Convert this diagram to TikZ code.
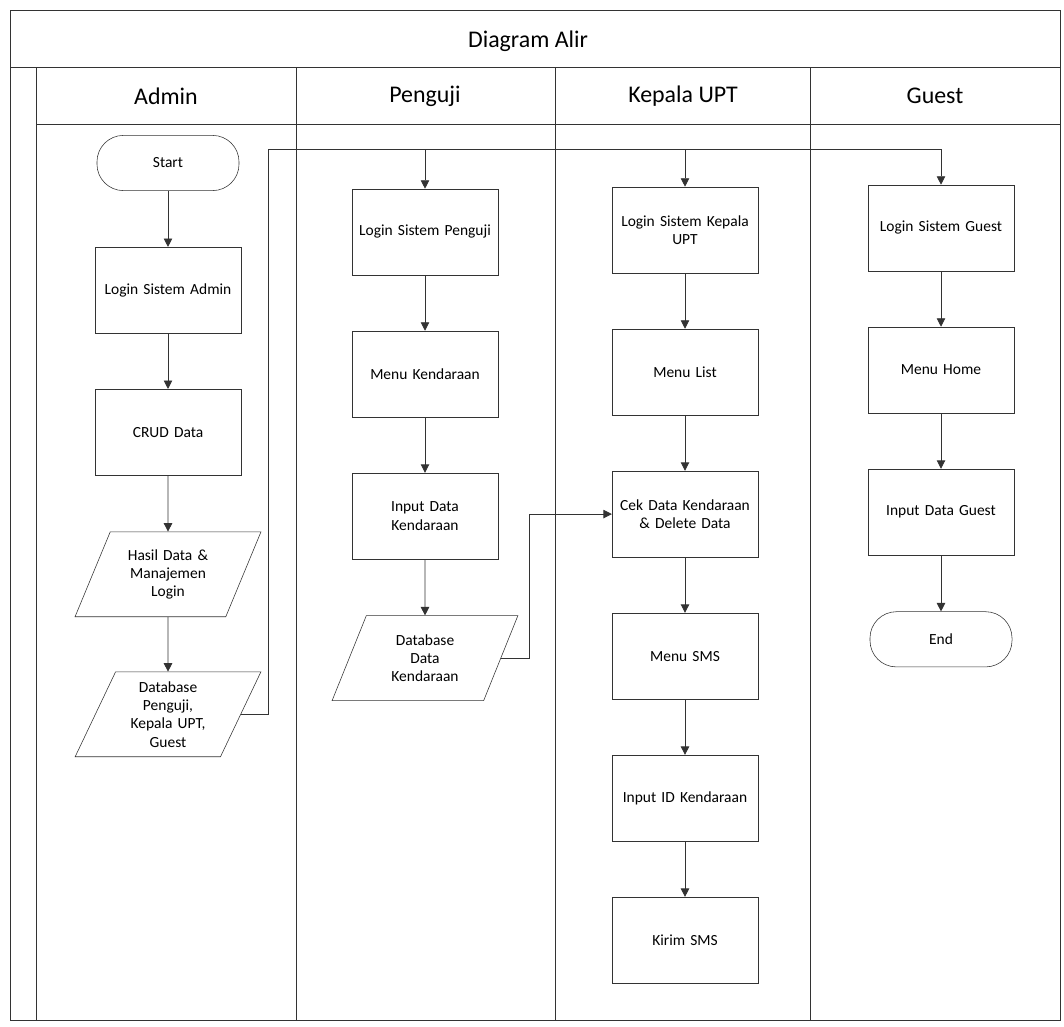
\documentclass[tikz,border=0pt]{standalone}
\usepackage{fontspec}
\setmainfont{Carlito}
\usetikzlibrary{arrows,arrows.meta,shapes.geometric,positioning}
\tikzstyle{startstop} = [rectangle, rounded corners=0.66cm, minimum width=3.55cm, minimum height=1.38cm, align=center, draw=black!80, font=\fontsize{11}{13}\selectfont]
\tikzstyle{proc} = [rectangle, minimum width=3.62cm, minimum height=2.15cm, text width=3.5cm, inner xsep=2pt, align=center, draw=black!80, font=\fontsize{11}{13}\selectfont]
\tikzstyle{io} = [trapezium, trapezium left angle=63, trapezium right angle=117, trapezium stretches=true, minimum width=4.65cm, minimum height=2.12cm, text width=2.25cm, align=center, draw=black!80, font=\fontsize{11}{13}\selectfont]
\tikzstyle{lanehead} = [font=\fontsize{17}{20}\selectfont]
\tikzstyle{frame} = [draw=black!80, line width=0.6pt]

\begin{document}
\begin{tikzpicture}[>={Triangle[length=6pt,width=6pt]}, node distance=3.55cm, x=0.025cm, y=-0.025cm]
    \useasboundingbox (0,0) rectangle (1064,1026);

    % swimlanes
    \draw[frame] (10,10) rectangle (1060,1020);
    \draw[frame] (10,67) -- (1060,67);
    \draw[frame] (36,67) -- (36,1020);
    \draw[frame] (36,124) -- (1060,124);
    \foreach \x in {296,555,810}
        \draw[frame] (\x,67) -- (\x,1020);

    \node[lanehead] (title) at (528,41) {Diagram Alir};
    \node[lanehead] (hAdmin) at (166,96) {Admin};
    \node[lanehead] (hPenguji) at (425,96) {Penguji};
    \node[lanehead] (hKepala) at (683,96) {Kepala UPT};
    \node[lanehead] (hGuest) at (935,96) {Guest};

    % Admin
    \node[startstop] (start) at (168,163) {Start};
    \node[proc, below of=start, node distance=3.18cm] (logAdmin) {Login Sistem Admin};
    \node[proc, below of=logAdmin] (crud) {CRUD Data};
    \node[io, below of=crud] (hasil) {Hasil Data \&\\ Manajemen\\ Login};
    \node[io, below of=hasil, node distance=3.5cm] (dbPenguji) {Database\\ Penguji,\\ Kepala UPT,\\ Guest};

    % Penguji
    \node[proc] (logPenguji) at (425,232) {Login Sistem Penguji};
    \node[proc, below of=logPenguji] (menuKend) {Menu Kendaraan};
    \node[proc, below of=menuKend] (inputKend) {Input Data\\ Kendaraan};
    \node[io, below of=inputKend] (dbKend) {Database\\ Data\\ Kendaraan};

    % Kepala UPT
    \node[proc] (logKepala) at (685,230) {Login Sistem Kepala\\ UPT};
    \node[proc, below of=logKepala] (menuList) {Menu List};
    \node[proc, below of=menuList] (cek) {Cek Data Kendaraan\\ \& Delete Data};
    \node[proc, below of=cek] (menuSms) {Menu SMS};
    \node[proc, below of=menuSms] (inputId) {Input ID Kendaraan};
    \node[proc, below of=inputId] (kirim) {Kirim SMS};

    % Guest
    \node[proc] (logGuest) at (941,228) {Login Sistem Guest};
    \node[proc, below of=logGuest] (menuHome) {Menu Home};
    \node[proc, below of=menuHome] (inputGuest) {Input Data Guest};
    \node[startstop, below of=inputGuest, node distance=3.18cm] (end) {End};

    \coordinate (bus) at (268,149);

    \foreach \a/\b in {start/logAdmin, logAdmin/crud, crud/hasil, hasil/dbPenguji,
                       logPenguji/menuKend, menuKend/inputKend, inputKend/dbKend,
                       logKepala/menuList, menuList/cek, cek/menuSms, menuSms/inputId, inputId/kirim,
                       logGuest/menuHome, menuHome/inputGuest, inputGuest/end}
        \draw[->, frame] (\a) -- (\b);

    \draw[->, frame] (dbPenguji.east) -| (bus) -| (logGuest.north);
    \draw[->, frame] (bus -| logPenguji.north) -- (logPenguji);
    \draw[->, frame] (bus -| logKepala.north) -- (logKepala);
    \draw[->, frame] (dbKend.east) -- ++(28,0) |- (cek.west);
\end{tikzpicture}
\end{document}
